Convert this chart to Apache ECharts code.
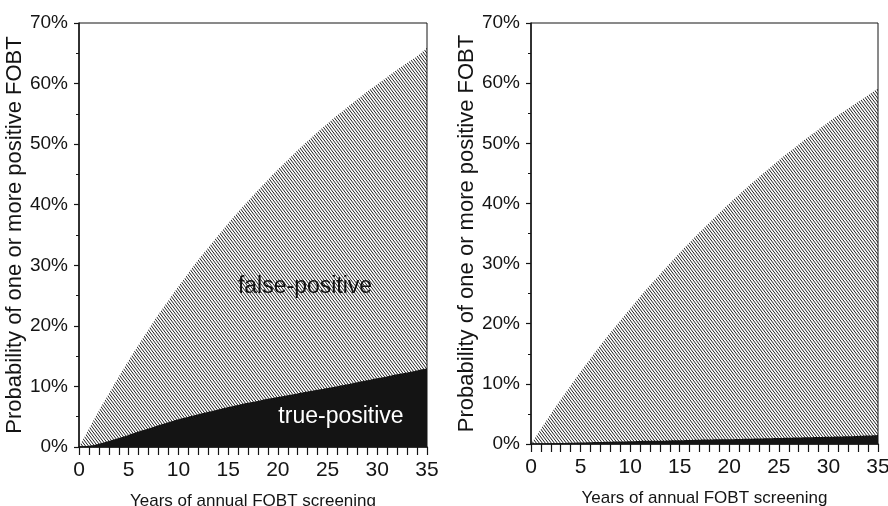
<!DOCTYPE html>
<html>
<head>
<meta charset="utf-8">
<script src="https://cdn.jsdelivr.net/npm/echarts@6/dist/echarts.min.js"></script>
<style>
  html, body { margin: 0; padding: 0; background: #fff; }
  #chart { width: 888px; height: 506px; }
</style>
</head>
<body>
<div id="chart"></div>
<script>
// years of annual screening
var years = [0, 1, 2, 3, 4, 5, 6, 7, 8, 9, 10, 11, 12, 13, 14, 15, 16, 17, 18, 19, 20,
             21, 22, 23, 24, 25, 26, 27, 28, 29, 30, 31, 32, 33, 34, 35];

// left panel: total positive (top of hatched area) and true-positive (black area), in %
var leftTotal = [0, 3.0, 6.0, 8.8, 11.6, 14.3, 16.9, 19.4, 21.9, 24.2, 26.5, 28.7, 30.9, 32.9,
                 34.9, 36.9, 38.8, 40.6, 42.4, 44.1, 45.8, 47.4, 49.0, 50.5, 52.0, 53.4, 54.8,
                 56.1, 57.4, 58.7, 59.9, 61.1, 62.3, 63.4, 64.5, 65.9];
var leftTrue = [0, 0.2, 0.55, 1.0, 1.5, 2.0, 2.55, 3.05, 3.6, 4.1, 4.6, 5.0, 5.4, 5.8, 6.2, 6.6,
                6.95, 7.3, 7.6, 7.95, 8.25, 8.55, 8.85, 9.15, 9.45, 9.75, 10.05, 10.35, 10.7, 11.0,
                11.35, 11.65, 12.0, 12.3, 12.65, 13.0];

// right panel
var rightTotal = [0, 2.5, 5.0, 7.4, 9.7, 12.0, 14.2, 16.4, 18.5, 20.5, 22.5, 24.5, 26.4, 28.2,
                  30.0, 31.8, 33.5, 35.2, 36.8, 38.4, 40.0, 41.5, 43.0, 44.4, 45.8, 47.2, 48.5,
                  49.8, 51.1, 52.3, 53.5, 54.7, 55.8, 56.9, 58.0, 59.1];
var rightTrue = [0, 0.05, 0.1, 0.15, 0.2, 0.25, 0.3, 0.33, 0.37, 0.4, 0.45, 0.5, 0.52, 0.55,
                 0.6, 0.62, 0.66, 0.7, 0.73, 0.77, 0.8, 0.84, 0.88, 0.92, 0.96, 1.0, 1.04, 1.08,
                 1.12, 1.16, 1.2, 1.25, 1.3, 1.35, 1.4, 1.5];

var xLabelYears = [0, 5, 10, 15, 20, 25, 30, 35];
var yTickLabels = ['0%', '10%', '20%', '30%', '40%', '50%', '60%', '70%'];

var xTitle = 'Years of annual FOBT screening';
var yTitle = 'Probability of one or more positive FOBT';

var FONT = '"Liberation Sans", Arial, sans-serif';
var INK = '#141414';

// diagonal hatch tile ("\" direction)
function makeHatch() {
    var c = document.createElement('canvas');
    c.width = 12;
    c.height = 16;
    var ctx = c.getContext('2d');
    ctx.strokeStyle = '#111';
    ctx.lineWidth = 0.95;
    for (var i = -6; i <= 6; i++) {
        ctx.beginPath();
        ctx.moveTo(i * 3, 0);
        ctx.lineTo(i * 3 + 12, 16);
        ctx.stroke();
    }
    return c;
}
var hatch = makeHatch();

function pairs(vals) {
    return years.map(function (y, i) { return [y, vals[i]]; });
}

function xAxisFor(idx) {
    return {
        gridIndex: idx,
        type: 'value',
        min: 0,
        max: 35,
        interval: 1,
        name: xTitle,
        nameLocation: 'middle',
        nameGap: 46,
        nameTextStyle: { fontFamily: FONT, fontSize: 17, color: INK },
        axisLine: { show: true, lineStyle: { color: INK, width: 1.5 } },
        axisTick: { show: true, length: 8, lineStyle: { color: INK, width: 1.2 } },
        axisLabel: {
            margin: 13,
            fontFamily: FONT,
            fontSize: 21,
            color: INK,
            formatter: function (v) { return xLabelYears.indexOf(v) >= 0 ? String(v) : ''; }
        },
        splitLine: { show: false }
    };
}

function yAxisFor(idx) {
    return {
        gridIndex: idx,
        type: 'value',
        min: 0,
        max: 70,
        interval: 10,
        name: yTitle,
        nameLocation: 'middle',
        nameGap: 50,
        nameRotate: 90,
        nameTextStyle: { fontFamily: FONT, fontSize: 22, color: INK },
        axisLine: { show: true, lineStyle: { color: INK, width: 1.5 } },
        axisTick: { show: true, length: 5, lineStyle: { color: INK, width: 1.2 } },
        minorTick: { show: true, splitNumber: 2, length: 3, lineStyle: { color: INK } },
        axisLabel: {
            margin: 11,
            fontFamily: FONT,
            fontSize: 19,
            color: INK,
            formatter: function (v) { return yTickLabels[v / 10]; }
        },
        splitLine: { show: false }
    };
}

function areaSeries(idx, vals, fill) {
    return {
        type: 'line',
        xAxisIndex: idx,
        yAxisIndex: idx,
        data: pairs(vals),
        smooth: true,
        symbol: 'none',
        lineStyle: { width: 0 },
        areaStyle: { color: fill, opacity: 1 },
        silent: true
    };
}

var myChart = echarts.init(document.getElementById('chart'));

option = {
    backgroundColor: '#fff',
    animation: false,
    grid: [
        { left: 79, top: 23, width: 348, height: 424, outerBoundsMode: 'none', containLabel: false,
          show: true, borderColor: INK, borderWidth: 1, backgroundColor: 'transparent' },
        { left: 531, top: 23, width: 347, height: 421, outerBoundsMode: 'none', containLabel: false,
          show: true, borderColor: INK, borderWidth: 1, backgroundColor: 'transparent' }
    ],
    xAxis: [xAxisFor(0), xAxisFor(1)],
    yAxis: [yAxisFor(0), yAxisFor(1)],
    series: [
        areaSeries(0, leftTotal, { image: hatch, repeat: 'repeat' }),
        areaSeries(0, leftTrue, INK),
        areaSeries(1, rightTotal, { image: hatch, repeat: 'repeat' }),
        areaSeries(1, rightTrue, INK)
    ],
    graphic: [
        {
            type: 'text',
            x: 305,
            y: 287,
            style: {
                text: 'false-positive',
                font: '23px ' + FONT,
                fill: INK,
                align: 'center',
                verticalAlign: 'middle'
            },
            z: 100
        },
        {
            type: 'text',
            x: 341,
            y: 417,
            style: {
                text: 'true-positive',
                font: '23px ' + FONT,
                fill: '#fff',
                align: 'center',
                verticalAlign: 'middle'
            },
            z: 100
        }
    ]
};

myChart.setOption(option);
</script>
</body>
</html>
